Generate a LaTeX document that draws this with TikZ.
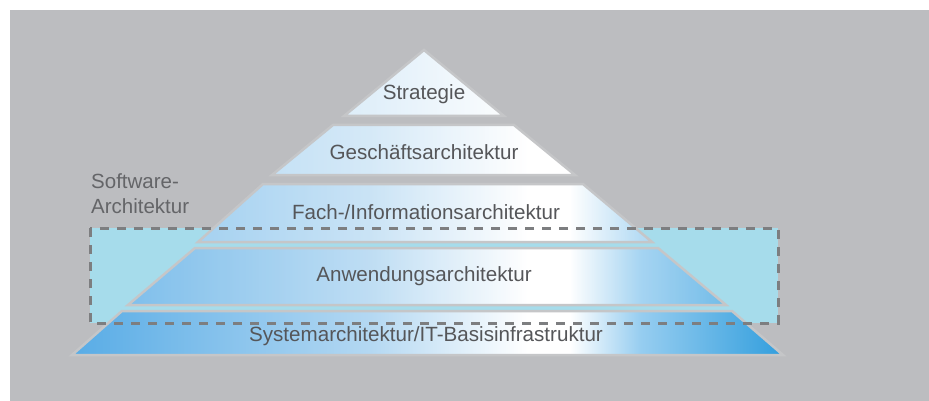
\documentclass[tikz,border=0pt]{standalone}
\usepackage{fontspec}
\setmainfont{Liberation Sans}
\usepackage{xcolor}
\usetikzlibrary{positioning}
\definecolor{bggray}{RGB}{188,189,192}
\definecolor{boxcyan}{RGB}{166,220,235}
\definecolor{textgray}{RGB}{85,86,89}
\definecolor{sidegray}{RGB}{100,101,104}
\definecolor{edgegray}{RGB}{197,198,200}
\definecolor{dashgray}{RGB}{125,126,128}
\definecolor{pyrleft}{RGB}{88,172,230}
\definecolor{pyrmid}{RGB}{180,216,242}
\definecolor{pyrrlight}{RGB}{150,205,240}
\definecolor{pyrright}{RGB}{50,158,221}
\pgfdeclarehorizontalshading{pyrshade}{100bp}{color(0bp)=(pyrleft); color(25bp)=(pyrleft); color(46bp)=(pyrmid); color(57bp)=(white); color(60bp)=(white); color(65bp)=(pyrrlight); color(75bp)=(pyrright); color(100bp)=(pyrright)}

\begin{document}
\begin{tikzpicture}[x=1pt, y=-1pt,
    layer/.style={draw=edgegray, line width=2.5pt,
        path picture={\shade[shading=pyrshade] (72,40) rectangle (783,360);
                      \fill[white, fill opacity=#1] (0,0) rectangle (929,401);}},
    layertext/.style={text=textgray, inner sep=0pt, font=\fontsize{20.6}{24}\selectfont},
    sidetext/.style={text=sidegray, inner sep=0pt, align=left, font=\fontsize{20.5}{25}\selectfont},
    boxline/.style={draw=dashgray, line width=3pt, dash pattern=on 9pt off 8pt}
]
\useasboundingbox (0,0) rectangle (929,401);

% Background
\fill[bggray] (10,10) rectangle (929,401);

% Software architecture area
\fill[boxcyan] (90,228) rectangle (778,323);

% Pyramid layers
\draw[layer=0.6] (424,50) -- (504,116) -- (344,116) -- cycle;
\draw[layer=0.45] (333,125) -- (514,125) -- (575,175) -- (272,175) -- cycle;
\draw[layer=0.3] (263,184) -- (583,184) -- (652,242) -- (198,242) -- cycle;
\draw[layer=0.15] (195,248) -- (658,248) -- (726,305) -- (128,305) -- cycle;
\draw[layer=0] (122,311) -- (732,311) -- (783,355) -- (72,355) -- cycle;

% Layer labels
\node[layertext] (strat) at (424,94) {Strategie};
\node[layertext] (gesch) at (424,152) {Geschäftsarchitektur};
\node[layertext] (fach) at (426,212) {Fach-/Informationsarchitektur};
\node[layertext] (anw) at (424,276) {Anwendungsarchitektur};
\node[layertext] (sys) at (426,336) {Systemarchitektur/IT-Basisinfrastruktur};

% Dashed frame and its label
\draw[boxline] (90,228) rectangle (778,323);
\node[sidetext, anchor=north west] (swa) at (91,173) {Software-\\Architektur};

\end{tikzpicture}
\end{document}
